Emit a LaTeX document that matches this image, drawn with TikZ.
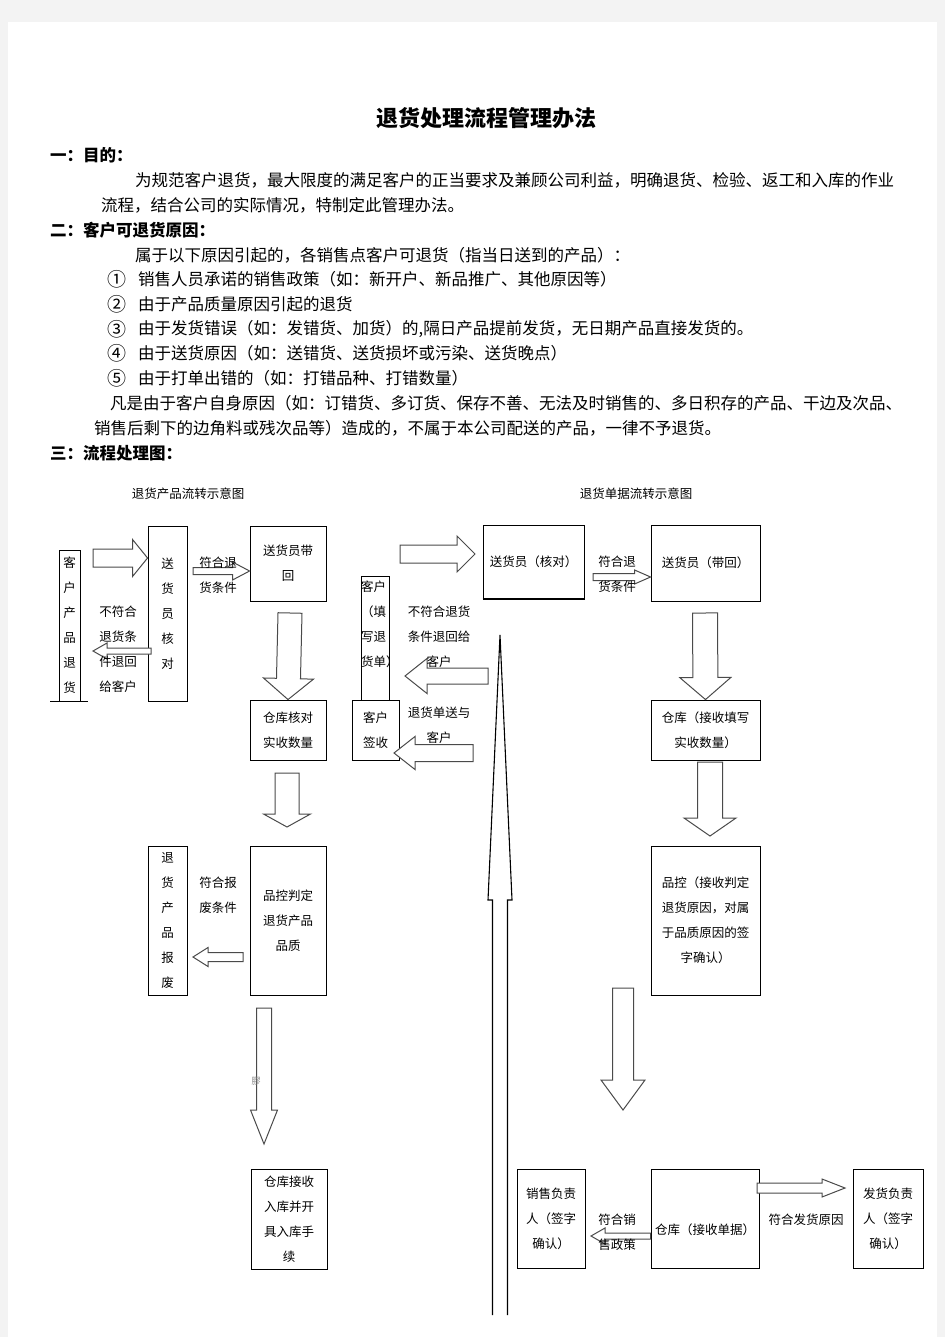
\documentclass[tikz,border=0pt]{standalone}
\usepackage{fontspec}
\setmainfont{Noto Sans CJK SC}
\usetikzlibrary{calc}
\definecolor{pagegray}{HTML}{F3F3F3}
\definecolor{arrowgray}{HTML}{4A4A4A}
\newcommand{\diafont}{\fontsize{12.5}{25}\selectfont}
% hollow block arrow: tail, tip, shaft half width, head half width, head length
\newcommand{\fatarrow}[5]{%
  \coordinate (fa-a) at (#1);
  \coordinate (fa-b) at (#2);
  \coordinate (fa-h) at ($(fa-b)!#5!(fa-a)$);
  \draw[fatline] ($(fa-a)!#3!90:(fa-b)$) -- ($(fa-h)!#3!90:(fa-b)$) -- ($(fa-h)!#4!90:(fa-b)$)
    -- (fa-b) -- ($(fa-h)!#4!-90:(fa-b)$) -- ($(fa-h)!#3!-90:(fa-b)$) -- ($(fa-a)!#3!-90:(fa-b)$) -- cycle;}

\begin{document}
\begin{tikzpicture}[x=1pt,y=-1pt,
    box/.style={draw,line width=0.9pt,inner sep=0pt,align=center,font=\diafont},
    txt/.style={inner sep=0pt,align=center,font=\diafont},
    body/.style={inner sep=0pt,anchor=west,font=\fontsize{16.5}{20}\selectfont},
    num/.style={inner sep=0pt,anchor=west,font=\fontsize{19}{20}\selectfont},
    head/.style={inner sep=0pt,anchor=west,font=\fontsize{16.5}{20}\selectfont\bfseries},
    fatline/.style={draw=arrowgray,fill=white,line width=1pt}]
  % page
  \fill[pagegray] (0,0) rectangle (945,1337);
  \fill[white] (8,22) rectangle (937,1337);
  \useasboundingbox (0,0) rectangle (945,1337);

  % text part
  \node[inner sep=0pt,font=\fontsize{22}{26}\selectfont\bfseries] (title) at (486,118) {退货处理流程管理办法};
  \node[head] (s1) at (50,155) {一：目的：};
  \node[body] (p1) at (135,180) {为规范客户退货，最大限度的满足客户的正当要求及兼顾公司利益，明确退货、检验、返工和入库的作业};
  \node[body] (p2) at (101,205) {流程，结合公司的实际情况，特制定此管理办法。};
  \node[head] (s2) at (50,230) {二：客户可退货原因：};
  \node[body] (p3) at (135,255) {属于以下原因引起的，各销售点客户可退货（指当日送到的产品）：};
  \node[num] (n1) at (107,279) {①};
  \node[body] (r1) at (138,279) {销售人员承诺的销售政策（如：新开户、新品推广、其他原因等）};
  \node[num] (n2) at (107,304) {②};
  \node[body] (r2) at (138,304) {由于产品质量原因引起的退货};
  \node[num] (n3) at (107,329) {③};
  \node[body] (r3) at (138,329) {由于发货错误（如：发错货、加货）的,隔日产品提前发货，无日期产品直接发货的。};
  \node[num] (n4) at (107,353) {④};
  \node[body] (r4) at (138,353) {由于送货原因（如：送错货、送货损坏或污染、送货晚点）};
  \node[num] (n5) at (107,378) {⑤};
  \node[body] (r5) at (138,378) {由于打单出错的（如：打错品种、打错数量）};
  \node[body] (p4) at (110,403) {凡是由于客户自身原因（如：订错货、多订货、保存不善、无法及时销售的、多日积存的产品、干边及次品、};
  \node[body] (p5) at (94,428) {销售后剩下的边角料或残次品等）造成的，不属于本公司配送的产品，一律不予退货。};
  \node[head] (s3) at (50,453) {三：流程处理图：};

  % left chart: goods
  \node[txt] (lt) at (188,494) {退货产品流转示意图};
  \node[box,minimum width=21pt,minimum height=151pt] (kh) at (69.5,625.5) {客\\户\\产\\品\\退\\货};
  \draw[line width=0.9pt] (kh.south -| 50,0) -- (kh.south -| 88,0);
  \node[box,minimum width=39pt,minimum height=175pt] (shy) at (167.5,613.5) {送\\货\\员\\核\\对};
  \node[box,minimum width=76pt,minimum height=75pt] (shd) at (288,563.5) {送货员带\\回};
  \node[box,minimum width=76pt,minimum height=60pt] (ckhd) at (288,730) {仓库核对\\实收数量};
  \node[box,minimum width=76pt,minimum height=149pt] (pk) at (288,920.5) {品控判定\\退货产品\\品质};
  \node[box,minimum width=39pt,minimum height=149pt] (bf) at (167.5,920.5) {退\\货\\产\\品\\报\\废};
  \node[box,minimum width=76pt,minimum height=100pt] (rk) at (289,1219) {仓库接收\\入库并开\\具入库手\\续};

  % right chart: papers
  \node[txt] (rt) at (636,494) {退货单据流转示意图};
  \node[box,minimum width=101pt,minimum height=74pt] (shhd) at (533.5,562) {送货员（核对）};
  \draw[line width=2pt] (shhd.south west) -- (shhd.south east);
  \node[box,minimum width=109pt,minimum height=76pt] (shdh) at (705.5,563) {送货员（带回）};
  \node[box,minimum width=109pt,minimum height=60pt] (ckts) at (705.5,730) {仓库（接收填写\\实收数量）};
  \node[box,minimum width=109pt,minimum height=149pt] (pkqr) at (705.5,920.5) {品控（接收判定\\退货原因，对属\\于品质原因的签\\字确认）};
  \node[box,minimum width=28pt,minimum height=124pt] (kht) at (375,638) {};
  \node[txt,anchor=west,align=left] (khtt) at (361,624.5) {客户\\（填\\写退\\货单）};
  \node[box,minimum width=47pt,minimum height=60pt] (kqs) at (375.5,730) {客户\\签收};
  \node[box,minimum width=68pt,minimum height=99pt] (xs) at (551,1218.5) {销售负责\\人（签字\\确认）};
  \node[box,minimum width=108pt,minimum height=99pt] (ckdj) at (705,1218.5) {};
  \node[txt] (ckdjt) at (705,1230) {仓库（接收单据）};
  \node[box,minimum width=70pt,minimum height=99pt] (fh) at (888,1218.5) {发货负责\\人（签字\\确认）};

  % block arrows
  \fatarrow{93,558}{shy.west |- 0,558}{9pt}{18.5pt}{15pt}
  \fatarrow{193,571}{shd.west |- 0,571}{3.5pt}{9pt}{17pt}
  \fatarrow{151,651}{93,651}{3pt}{8pt}{14pt}
  \fatarrow{290,613}{ckhd.north}{12pt}{25pt}{21pt}
  \fatarrow{287,773}{287,827}{12pt}{23.5pt}{13pt}
  \fatarrow{243,957}{193,957}{4.5pt}{9.5pt}{15pt}
  \fatarrow{264,1008}{264,1144}{7.5pt}{13.5pt}{34pt}
  \fatarrow{400,554}{475,554}{9pt}{18pt}{18pt}
  \fatarrow{593,577}{shdh.west |- 0,577}{3.5pt}{7pt}{16pt}
  \fatarrow{705,613}{ckts.north}{12.5pt}{25.5pt}{22pt}
  \fatarrow{710,762}{710,836}{12.5pt}{26pt}{18pt}
  \fatarrow{623,988}{623,1110}{10.5pt}{22pt}{30pt}
  \fatarrow{488,676}{405,676}{8pt}{17.5pt}{22pt}
  \fatarrow{473,753}{394,753}{8.5pt}{16.5pt}{21pt}
  \fatarrow{ckdj.west |- 0,1236}{591,1236}{3pt}{8pt}{14pt}
  \fatarrow{757,1188}{845,1188}{5pt}{9pt}{23pt}
  % long thin arrow up the middle
  \draw[line width=1.1pt] (492.5,1315) -- (492.5,900) -- (488,900) -- (500,635) -- (512,900) -- (507.5,900) -- (507.5,1315);

  % labels on the arrows
  \node[txt] (c1) at (218,575) {符合退\\货条件};
  \node[txt,align=left] (c2) at (118,649.5) {不符合\\退货条\\件退回\\给客户};
  \node[txt] (c3) at (218,895.5) {符合报\\废条件};
  \node[txt] (c4) at (617,574.5) {符合退\\货条件};
  \node[txt] (c5) at (439,637) {不符合退货\\条件退回给\\客户};
  \node[txt] (c6) at (439,725.5) {退货单送与\\客户};
  \node[txt] (c7) at (617,1232.5) {符合销\\售政策};
  \node[txt] (c8) at (806,1220) {符合发货原因};
  \node[inner sep=0pt,font=\fontsize{9}{9}\selectfont,text=gray] (glitch) at (256,1081) {膠};
\end{tikzpicture}
\end{document}
